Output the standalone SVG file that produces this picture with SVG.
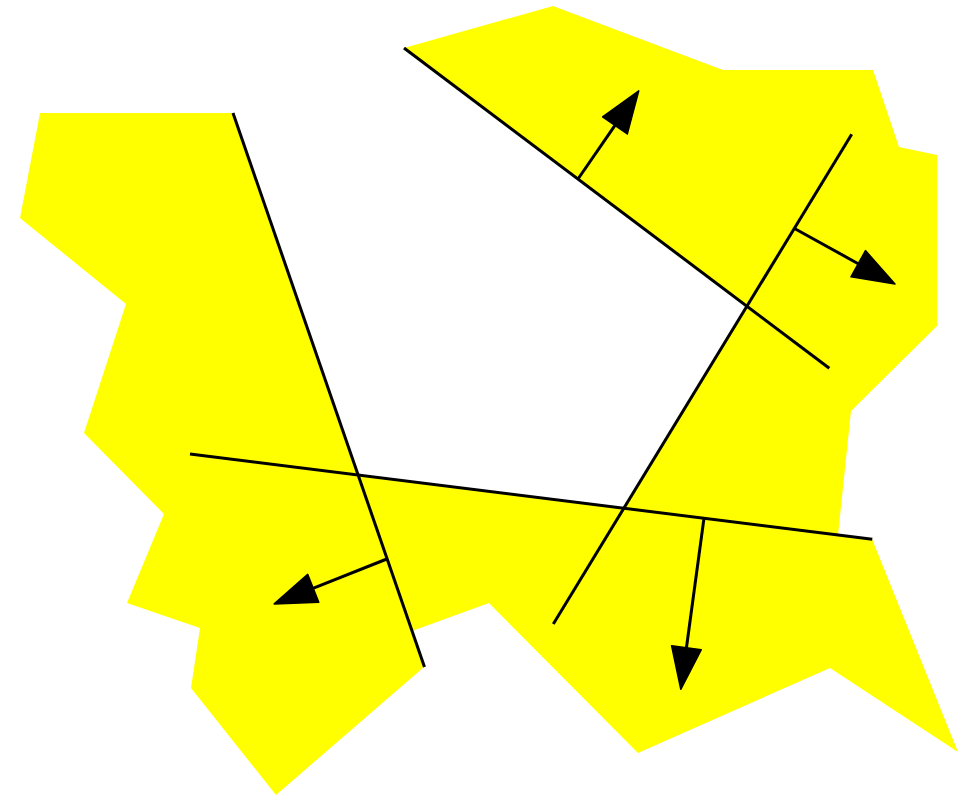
<svg xmlns="http://www.w3.org/2000/svg" width="958" height="795" viewBox="0 0 958 795">
<style>
.area{fill:#ffff00;stroke:none}
.ln{stroke:#000;stroke-width:3;fill:none;stroke-linecap:butt}
.ar{stroke:#000;stroke-width:3;fill:none}
</style>
<defs>
<marker id="head" markerUnits="userSpaceOnUse" markerWidth="46" markerHeight="34" refX="1" refY="15" orient="auto" viewBox="-2 -2 46 34">
<path d="M0,0 L42,15 L0,30 Z" fill="#000" stroke="#000" stroke-width="1.5" stroke-linejoin="round"/>
</marker>
</defs>
<rect width="958" height="795" fill="#fff"/>
<g id="region">
<polygon class="area" points="851,411 838,535 872,539 958,752 830,668 638,753 489,603 412,631 424,667 276,795 191,688 200,628 127,603 164,514 84,433 126,304 20,218 40,113 233,113 357.8,474.9 623.5,508 746.5,305.9 404,48 553,6 723,70 873,70 899,147 937,155 937,326"/>
</g>
<g id="lines">
<line class="ln" x1="233" y1="113" x2="424.5" y2="667"/>
<line class="ln" x1="404" y1="48" x2="829.3" y2="368.3"/>
<line class="ln" x1="851.7" y1="134.3" x2="553.3" y2="624"/>
<line class="ln" x1="190" y1="454" x2="872.3" y2="539.3"/>
</g>
<g id="arrows">
<line class="ar" x1="578" y1="179" x2="615.5" y2="124.6" marker-end="url(#head)"/>
<line class="ar" x1="794.5" y1="228.5" x2="859.1" y2="264.2" marker-end="url(#head)"/>
<line class="ar" x1="704" y1="518.1" x2="686.3" y2="648.7" marker-end="url(#head)"/>
<line class="ar" x1="386.8" y1="559" x2="312.3" y2="588.7" marker-end="url(#head)"/>
</g>
</svg>
